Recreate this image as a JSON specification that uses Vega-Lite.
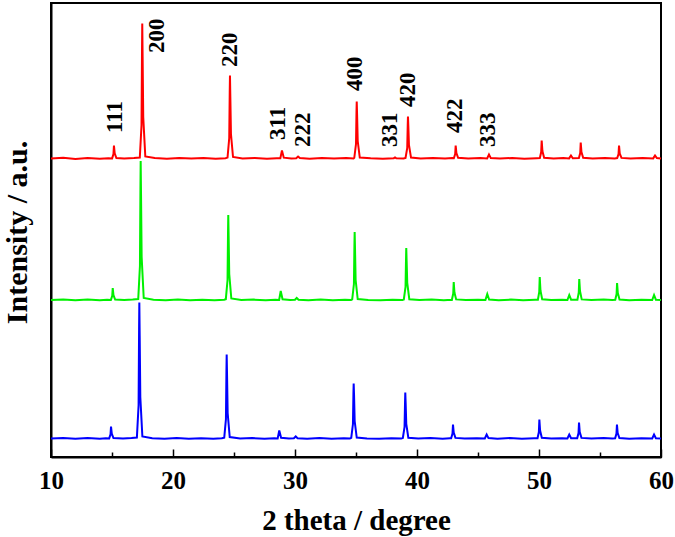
{
  "$schema": "https://vega.github.io/schema/vega-lite/v6.json",
  "width": 610,
  "height": 454,
  "autosize": {"type": "none"},
  "padding": {"left": 51, "top": 3, "right": 14, "bottom": 80},
  "background": "white",
  "config": {
    "view": {"stroke": "black", "strokeWidth": 2},
    "font": "Liberation Serif"
  },
  "datasets": {
    "xrd": [
      {"t":10.0,"i":298.5,"s":"a"},{"t":11.0,"i":299.2,"s":"a"},{"t":12.0,"i":298.1,"s":"a"},{"t":13.0,"i":299.0,"s":"a"},{"t":14.0,"i":298.3,"s":"a"},{"t":14.7,"i":298.8,"s":"a"},
      {"t":15.01,"i":298.6,"s":"a"},{"t":15.12,"i":303.0,"s":"a"},{"t":15.16,"i":311.5,"s":"a"},{"t":15.22,"i":303.7,"s":"a"},{"t":15.36,"i":299.0,"s":"a"},
      {"t":16.0,"i":298.4,"s":"a"},{"t":16.8,"i":298.9,"s":"a"},
      {"t":17.28,"i":299.5,"s":"a"},{"t":17.42,"i":332,"s":"a"},{"t":17.46,"i":406,"s":"a"},{"t":17.48,"i":433.5,"s":"a"},{"t":17.51,"i":400,"s":"a"},{"t":17.56,"i":340,"s":"a"},{"t":17.73,"i":300.5,"s":"a"},
      {"t":18.5,"i":298.9,"s":"a"},{"t":19.5,"i":298.2,"s":"a"},{"t":20.5,"i":299.1,"s":"a"},{"t":21.5,"i":298.4,"s":"a"},{"t":22.5,"i":298.9,"s":"a"},{"t":23.5,"i":298.3,"s":"a"},{"t":24.3,"i":298.8,"s":"a"},
      {"t":24.47,"i":299.4,"s":"a"},{"t":24.61,"i":319,"s":"a"},{"t":24.65,"i":365,"s":"a"},{"t":24.67,"i":381.5,"s":"a"},{"t":24.70,"i":360,"s":"a"},{"t":24.75,"i":323,"s":"a"},{"t":24.92,"i":300,"s":"a"},
      {"t":25.7,"i":298.6,"s":"a"},{"t":26.7,"i":299.0,"s":"a"},{"t":27.7,"i":298.2,"s":"a"},{"t":28.5,"i":298.8,"s":"a"},
      {"t":28.8,"i":298.7,"s":"a"},{"t":28.93,"i":306.5,"s":"a"},{"t":29.08,"i":299.3,"s":"a"},
      {"t":29.7,"i":298.5,"s":"a"},{"t":30.1,"i":298.8,"s":"a"},{"t":30.25,"i":300.5,"s":"a"},{"t":30.4,"i":298.9,"s":"a"},
      {"t":31.2,"i":298.3,"s":"a"},{"t":32.2,"i":299.0,"s":"a"},{"t":33.2,"i":298.4,"s":"a"},{"t":34.2,"i":298.9,"s":"a"},{"t":34.8,"i":298.6,"s":"a"},
      {"t":34.86,"i":299.2,"s":"a"},{"t":35.0,"i":313,"s":"a"},{"t":35.04,"i":345,"s":"a"},{"t":35.06,"i":355.5,"s":"a"},{"t":35.09,"i":342,"s":"a"},{"t":35.14,"i":316,"s":"a"},{"t":35.31,"i":299.5,"s":"a"},
      {"t":36.2,"i":298.7,"s":"a"},{"t":37.2,"i":298.3,"s":"a"},{"t":38.1,"i":298.8,"s":"a"},{"t":38.2,"i":299.6,"s":"a"},{"t":38.3,"i":298.7,"s":"a"},{"t":38.9,"i":298.5,"s":"a"},
      {"t":39.06,"i":299.1,"s":"a"},{"t":39.2,"i":309,"s":"a"},{"t":39.24,"i":332,"s":"a"},{"t":39.26,"i":340.5,"s":"a"},{"t":39.29,"i":331,"s":"a"},{"t":39.34,"i":312,"s":"a"},{"t":39.51,"i":299.4,"s":"a"},
      {"t":40.3,"i":298.6,"s":"a"},{"t":41.3,"i":299.0,"s":"a"},{"t":42.3,"i":298.4,"s":"a"},{"t":42.9,"i":298.9,"s":"a"},
      {"t":43.02,"i":298.8,"s":"a"},{"t":43.13,"i":303,"s":"a"},{"t":43.17,"i":311.5,"s":"a"},{"t":43.23,"i":304,"s":"a"},{"t":43.37,"i":299.2,"s":"a"},
      {"t":44.2,"i":298.5,"s":"a"},{"t":45.2,"i":298.9,"s":"a"},{"t":45.75,"i":298.6,"s":"a"},{"t":45.9,"i":302.5,"s":"a"},{"t":46.05,"i":298.9,"s":"a"},
      {"t":46.8,"i":298.4,"s":"a"},{"t":47.8,"i":299.0,"s":"a"},{"t":48.8,"i":298.3,"s":"a"},{"t":49.8,"i":298.8,"s":"a"},
      {"t":50.07,"i":299,"s":"a"},{"t":50.18,"i":305,"s":"a"},{"t":50.22,"i":316.5,"s":"a"},{"t":50.28,"i":306,"s":"a"},{"t":50.42,"i":299.3,"s":"a"},
      {"t":51.2,"i":298.6,"s":"a"},{"t":52.0,"i":298.9,"s":"a"},{"t":52.47,"i":298.6,"s":"a"},{"t":52.62,"i":301.5,"s":"a"},{"t":52.77,"i":298.8,"s":"a"},
      {"t":53.27,"i":298.9,"s":"a"},{"t":53.38,"i":304,"s":"a"},{"t":53.42,"i":314.5,"s":"a"},{"t":53.48,"i":305,"s":"a"},{"t":53.62,"i":299.2,"s":"a"},
      {"t":54.4,"i":298.5,"s":"a"},{"t":55.4,"i":299.0,"s":"a"},{"t":56.2,"i":298.6,"s":"a"},
      {"t":56.41,"i":298.9,"s":"a"},{"t":56.52,"i":303,"s":"a"},{"t":56.56,"i":311.5,"s":"a"},{"t":56.62,"i":303.5,"s":"a"},{"t":56.76,"i":299.1,"s":"a"},
      {"t":57.5,"i":298.4,"s":"a"},{"t":58.5,"i":298.9,"s":"a"},{"t":59.36,"i":298.6,"s":"a"},{"t":59.51,"i":301.5,"s":"a"},{"t":59.66,"i":298.9,"s":"a"},{"t":60.0,"i":298.5,"s":"a"},

      {"t":10.0,"i":157,"s":"b"},{"t":11.0,"i":157.6,"s":"b"},{"t":12.0,"i":156.7,"s":"b"},{"t":13.0,"i":157.4,"s":"b"},{"t":14.0,"i":156.8,"s":"b"},{"t":14.6,"i":157.3,"s":"b"},
      {"t":14.91,"i":157.1,"s":"b"},{"t":15.02,"i":161.2,"s":"b"},{"t":15.06,"i":169,"s":"b"},{"t":15.12,"i":161.8,"s":"b"},{"t":15.26,"i":157.5,"s":"b"},
      {"t":16.0,"i":156.9,"s":"b"},{"t":16.7,"i":157.4,"s":"b"},
      {"t":17.15,"i":158,"s":"b"},{"t":17.29,"i":191,"s":"b"},{"t":17.33,"i":268,"s":"b"},{"t":17.35,"i":296,"s":"b"},{"t":17.38,"i":262,"s":"b"},{"t":17.43,"i":200,"s":"b"},{"t":17.6,"i":159,"s":"b"},
      {"t":18.4,"i":157.3,"s":"b"},{"t":19.4,"i":156.7,"s":"b"},{"t":20.4,"i":157.5,"s":"b"},{"t":21.4,"i":156.8,"s":"b"},{"t":22.4,"i":157.3,"s":"b"},{"t":23.4,"i":156.7,"s":"b"},{"t":24.2,"i":157.2,"s":"b"},
      {"t":24.33,"i":157.8,"s":"b"},{"t":24.47,"i":177,"s":"b"},{"t":24.51,"i":225,"s":"b"},{"t":24.53,"i":242,"s":"b"},{"t":24.56,"i":221,"s":"b"},{"t":24.61,"i":183,"s":"b"},{"t":24.78,"i":158.5,"s":"b"},
      {"t":25.6,"i":157.0,"s":"b"},{"t":26.6,"i":157.4,"s":"b"},{"t":27.6,"i":156.7,"s":"b"},{"t":28.4,"i":157.2,"s":"b"},
      {"t":28.7,"i":157.1,"s":"b"},{"t":28.83,"i":166,"s":"b"},{"t":28.98,"i":157.7,"s":"b"},
      {"t":29.6,"i":156.9,"s":"b"},{"t":30.0,"i":157.2,"s":"b"},{"t":30.14,"i":159,"s":"b"},{"t":30.29,"i":157.3,"s":"b"},
      {"t":31.1,"i":156.8,"s":"b"},{"t":32.1,"i":157.4,"s":"b"},{"t":33.1,"i":156.8,"s":"b"},{"t":34.1,"i":157.3,"s":"b"},{"t":34.6,"i":157.0,"s":"b"},
      {"t":34.69,"i":157.6,"s":"b"},{"t":34.83,"i":173,"s":"b"},{"t":34.87,"i":211,"s":"b"},{"t":34.89,"i":225,"s":"b"},{"t":34.92,"i":208,"s":"b"},{"t":34.97,"i":177,"s":"b"},{"t":35.14,"i":158,"s":"b"},
      {"t":36.0,"i":157.1,"s":"b"},{"t":37.0,"i":156.7,"s":"b"},{"t":38.0,"i":157.2,"s":"b"},{"t":38.8,"i":156.9,"s":"b"},
      {"t":38.92,"i":157.5,"s":"b"},{"t":39.06,"i":170,"s":"b"},{"t":39.10,"i":198,"s":"b"},{"t":39.12,"i":209,"s":"b"},{"t":39.15,"i":196,"s":"b"},{"t":39.20,"i":174,"s":"b"},{"t":39.37,"i":157.8,"s":"b"},
      {"t":40.2,"i":157.0,"s":"b"},{"t":41.2,"i":157.4,"s":"b"},{"t":42.2,"i":156.8,"s":"b"},{"t":42.8,"i":157.3,"s":"b"},
      {"t":42.86,"i":157.2,"s":"b"},{"t":42.97,"i":163.5,"s":"b"},{"t":43.01,"i":175,"s":"b"},{"t":43.07,"i":164.5,"s":"b"},{"t":43.21,"i":157.6,"s":"b"},
      {"t":44.0,"i":156.9,"s":"b"},{"t":45.0,"i":157.3,"s":"b"},{"t":45.61,"i":157.0,"s":"b"},{"t":45.76,"i":163,"s":"b"},{"t":45.91,"i":157.4,"s":"b"},
      {"t":46.7,"i":156.8,"s":"b"},{"t":47.7,"i":157.4,"s":"b"},{"t":48.7,"i":156.7,"s":"b"},{"t":49.7,"i":157.2,"s":"b"},
      {"t":49.91,"i":157.3,"s":"b"},{"t":50.02,"i":165,"s":"b"},{"t":50.06,"i":180,"s":"b"},{"t":50.12,"i":166.5,"s":"b"},{"t":50.26,"i":157.7,"s":"b"},
      {"t":51.0,"i":157.0,"s":"b"},{"t":51.9,"i":157.3,"s":"b"},{"t":52.33,"i":157.0,"s":"b"},{"t":52.48,"i":162,"s":"b"},{"t":52.63,"i":157.3,"s":"b"},
      {"t":53.15,"i":157.2,"s":"b"},{"t":53.26,"i":164.5,"s":"b"},{"t":53.3,"i":178,"s":"b"},{"t":53.36,"i":166,"s":"b"},{"t":53.5,"i":157.6,"s":"b"},
      {"t":54.3,"i":156.9,"s":"b"},{"t":55.3,"i":157.4,"s":"b"},{"t":56.0,"i":157.0,"s":"b"},
      {"t":56.25,"i":157.2,"s":"b"},{"t":56.36,"i":163,"s":"b"},{"t":56.4,"i":174,"s":"b"},{"t":56.46,"i":164,"s":"b"},{"t":56.6,"i":157.5,"s":"b"},
      {"t":57.4,"i":156.8,"s":"b"},{"t":58.4,"i":157.3,"s":"b"},{"t":59.28,"i":157.0,"s":"b"},{"t":59.43,"i":162,"s":"b"},{"t":59.58,"i":157.3,"s":"b"},{"t":60.0,"i":156.9,"s":"b"},

      {"t":10.0,"i":18.5,"s":"c"},{"t":11.0,"i":19.1,"s":"c"},{"t":12.0,"i":18.2,"s":"c"},{"t":13.0,"i":18.9,"s":"c"},{"t":14.0,"i":18.3,"s":"c"},{"t":14.5,"i":18.8,"s":"c"},
      {"t":14.77,"i":18.6,"s":"c"},{"t":14.88,"i":22.7,"s":"c"},{"t":14.92,"i":30.5,"s":"c"},{"t":14.98,"i":23.3,"s":"c"},{"t":15.12,"i":19,"s":"c"},
      {"t":15.9,"i":18.4,"s":"c"},{"t":16.6,"i":18.9,"s":"c"},
      {"t":17.04,"i":19.5,"s":"c"},{"t":17.18,"i":52,"s":"c"},{"t":17.22,"i":128,"s":"c"},{"t":17.24,"i":154.5,"s":"c"},{"t":17.27,"i":121,"s":"c"},{"t":17.32,"i":60,"s":"c"},{"t":17.49,"i":20.5,"s":"c"},
      {"t":18.3,"i":18.8,"s":"c"},{"t":19.3,"i":18.2,"s":"c"},{"t":20.3,"i":19.0,"s":"c"},{"t":21.3,"i":18.3,"s":"c"},{"t":22.3,"i":18.8,"s":"c"},{"t":23.3,"i":18.2,"s":"c"},{"t":24.0,"i":18.7,"s":"c"},
      {"t":24.2,"i":19.3,"s":"c"},{"t":24.34,"i":38,"s":"c"},{"t":24.38,"i":86,"s":"c"},{"t":24.4,"i":102.5,"s":"c"},{"t":24.43,"i":82,"s":"c"},{"t":24.48,"i":44,"s":"c"},{"t":24.65,"i":20,"s":"c"},
      {"t":25.5,"i":18.5,"s":"c"},{"t":26.5,"i":18.9,"s":"c"},{"t":27.5,"i":18.2,"s":"c"},{"t":28.3,"i":18.7,"s":"c"},
      {"t":28.58,"i":18.6,"s":"c"},{"t":28.71,"i":26.5,"s":"c"},{"t":28.86,"i":19.2,"s":"c"},
      {"t":29.5,"i":18.4,"s":"c"},{"t":29.91,"i":18.7,"s":"c"},{"t":30.06,"i":20.5,"s":"c"},{"t":30.21,"i":18.8,"s":"c"},
      {"t":31.0,"i":18.3,"s":"c"},{"t":32.0,"i":18.9,"s":"c"},{"t":33.0,"i":18.3,"s":"c"},{"t":34.0,"i":18.8,"s":"c"},{"t":34.5,"i":18.5,"s":"c"},
      {"t":34.61,"i":19.1,"s":"c"},{"t":34.75,"i":33,"s":"c"},{"t":34.79,"i":64,"s":"c"},{"t":34.81,"i":73.5,"s":"c"},{"t":34.84,"i":62,"s":"c"},{"t":34.89,"i":36,"s":"c"},{"t":35.06,"i":19.4,"s":"c"},
      {"t":35.9,"i":18.6,"s":"c"},{"t":36.9,"i":18.2,"s":"c"},{"t":37.9,"i":18.7,"s":"c"},{"t":38.7,"i":18.4,"s":"c"},
      {"t":38.84,"i":19.0,"s":"c"},{"t":38.98,"i":30,"s":"c"},{"t":39.02,"i":55,"s":"c"},{"t":39.04,"i":64.5,"s":"c"},{"t":39.07,"i":54,"s":"c"},{"t":39.12,"i":33,"s":"c"},{"t":39.29,"i":19.3,"s":"c"},
      {"t":40.1,"i":18.5,"s":"c"},{"t":41.1,"i":18.9,"s":"c"},{"t":42.1,"i":18.3,"s":"c"},{"t":42.7,"i":18.8,"s":"c"},
      {"t":42.8,"i":18.7,"s":"c"},{"t":42.91,"i":23.5,"s":"c"},{"t":42.95,"i":32.5,"s":"c"},{"t":43.01,"i":24.5,"s":"c"},{"t":43.15,"i":19.1,"s":"c"},
      {"t":43.9,"i":18.4,"s":"c"},{"t":44.9,"i":18.8,"s":"c"},{"t":45.56,"i":18.5,"s":"c"},{"t":45.71,"i":22.5,"s":"c"},{"t":45.86,"i":18.9,"s":"c"},
      {"t":46.6,"i":18.3,"s":"c"},{"t":47.6,"i":18.9,"s":"c"},{"t":48.6,"i":18.2,"s":"c"},{"t":49.6,"i":18.7,"s":"c"},
      {"t":49.88,"i":18.8,"s":"c"},{"t":49.99,"i":25,"s":"c"},{"t":50.03,"i":37.5,"s":"c"},{"t":50.09,"i":26.5,"s":"c"},{"t":50.23,"i":19.2,"s":"c"},
      {"t":51.0,"i":18.5,"s":"c"},{"t":51.9,"i":18.8,"s":"c"},{"t":52.33,"i":18.5,"s":"c"},{"t":52.48,"i":22.5,"s":"c"},{"t":52.63,"i":18.8,"s":"c"},
      {"t":53.13,"i":18.7,"s":"c"},{"t":53.24,"i":24,"s":"c"},{"t":53.28,"i":34.5,"s":"c"},{"t":53.34,"i":25,"s":"c"},{"t":53.48,"i":19.1,"s":"c"},
      {"t":54.3,"i":18.4,"s":"c"},{"t":55.3,"i":18.9,"s":"c"},{"t":56.0,"i":18.5,"s":"c"},
      {"t":56.24,"i":18.7,"s":"c"},{"t":56.35,"i":23.5,"s":"c"},{"t":56.39,"i":32.5,"s":"c"},{"t":56.45,"i":24,"s":"c"},{"t":56.59,"i":19.0,"s":"c"},
      {"t":57.4,"i":18.3,"s":"c"},{"t":58.4,"i":18.8,"s":"c"},{"t":59.28,"i":18.5,"s":"c"},{"t":59.43,"i":22.5,"s":"c"},{"t":59.58,"i":18.8,"s":"c"},{"t":60.0,"i":18.4,"s":"c"}
    ],
    "labels": [
      {"hkl":"111","t":15.25,"i":324},
      {"hkl":"200","t":18.69,"i":404},
      {"hkl":"220","t":24.67,"i":390},
      {"hkl":"311","t":28.6,"i":317},
      {"hkl":"222","t":30.66,"i":310},
      {"hkl":"400","t":34.92,"i":366},
      {"hkl":"331","t":37.79,"i":310},
      {"hkl":"420","t":39.26,"i":350},
      {"hkl":"422","t":43.11,"i":324},
      {"hkl":"333","t":45.82,"i":310}
    ]
  },
  "layer": [
    {
      "data": {"name": "xrd"},
      "mark": {"type": "line", "strokeWidth": 2, "interpolate": "linear"},
      "encoding": {
        "x": {
          "field": "t", "type": "quantitative",
          "scale": {"domain": [10, 60], "nice": false, "zero": false},
          "axis": {
            "title": "2 theta / degree",
            "values": [10, 15, 20, 25, 30, 35, 40, 45, 50, 55, 60],
            "labelExpr": "datum.value % 10 === 0 ? datum.label : ''",
            "tickSize": {"condition": {"test": "datum.value % 10 === 0", "value": -8}, "value": -5},
            "tickColor": "black",
            "tickWidth": 1.5,
            "domainColor": "black",
            "domainWidth": 2,
            "grid": false,
            "labelFont": "Liberation Serif",
            "labelFontWeight": "bold",
            "labelFontSize": 25,
            "labelColor": "black",
            "labelPadding": 19,
            "labelFlush": false,
            "labelOverlap": false,
            "titleFont": "Liberation Serif",
            "titleFontWeight": "bold",
            "titleFontSize": 29,
            "titleColor": "black",
            "titlePadding": 10
          }
        },
        "y": {
          "field": "i", "type": "quantitative",
          "scale": {"domain": [0, 454], "nice": false, "zero": false},
          "axis": {
            "title": "Intensity / a.u.",
            "labels": false,
            "ticks": false,
            "grid": false,
            "domainColor": "black",
            "domainWidth": 2,
            "titleFont": "Liberation Serif",
            "titleFontWeight": "bold",
            "titleFontSize": 30,
            "titleColor": "black",
            "titlePadding": 19,
            "titleY": 229
          }
        },
        "color": {
          "field": "s", "type": "nominal",
          "scale": {"domain": ["a", "b", "c"], "range": ["#ff0000", "#00f000", "#0000ff"]},
          "legend": null
        },
        "detail": {"field": "s"}
      }
    },
    {
      "data": {"name": "labels"},
      "mark": {"type": "text", "angle": 270, "align": "left", "baseline": "middle", "font": "Liberation Serif", "fontWeight": "bold", "fontSize": 23, "color": "black"},
      "encoding": {
        "x": {"field": "t", "type": "quantitative"},
        "y": {"field": "i", "type": "quantitative"},
        "text": {"field": "hkl"}
      }
    }
  ]
}
